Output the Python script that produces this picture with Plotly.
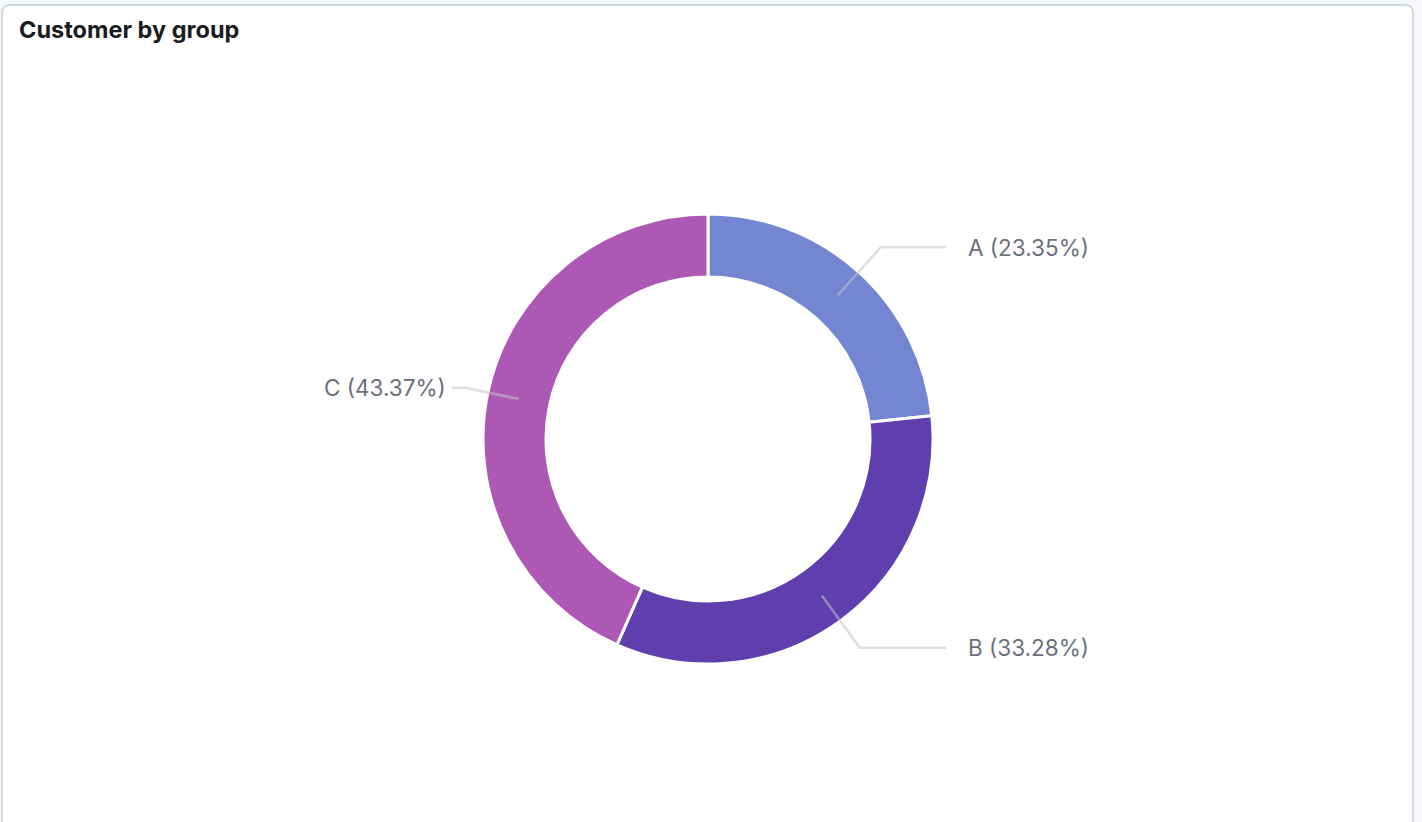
import math
import plotly.graph_objects as go

# ---- data ----
groups = ["A", "B", "C"]
shares = [23.35, 33.28, 43.37]
colors = ["#7486d2", "#5f3ead", "#ae58b6"]
title_text = "Customer by group"

W, H = 1422, 822
CX, CY = 708, 439          # donut centre (px)
R_OUT = 225                # outer radius (px)
HOLE = 0.72


def px(x):
    return x / W


def py(y):
    return 1 - y / H


fig = go.Figure()
fig.add_trace(go.Pie(
    labels=groups,
    values=shares,
    hole=HOLE,
    sort=False,
    direction="clockwise",
    rotation=0,
    marker=dict(colors=colors, line=dict(color="white", width=3)),
    textinfo="none",
    hoverinfo="label+percent",
    showlegend=False,
    domain=dict(x=[px(CX - R_OUT), px(CX + R_OUT)],
                y=[py(CY + R_OUT), py(CY - R_OUT)]),
))

shapes = []
annotations = []

# panel
x0, x1, yt, yb, rr = 2, 1413, 5, 840, 8
panel = (f"M {px(x0)},{py(yb)} L {px(x0)},{py(yt + rr)} "
         f"Q {px(x0)},{py(yt)} {px(x0 + rr)},{py(yt)} "
         f"L {px(x1 - rr)},{py(yt)} Q {px(x1)},{py(yt)} {px(x1)},{py(yt + rr)} "
         f"L {px(x1)},{py(yb)} Z")
shapes.append(dict(type="path", path=panel, xref="paper", yref="paper",
                   fillcolor="white", line=dict(color="#d3dae6", width=2),
                   layer="below"))

# leader lines + labels computed from the data
total = sum(shares)
r_mid = R_OUT * (1 + HOLE) / 2
cum = 0.0
for g, v in zip(groups, shares):
    mid = (cum + v / 2) / total * 2 * math.pi
    cum += v
    right = math.sin(mid) >= 0
    r_elb = 258 if right else 248
    sx, sy = CX + r_mid * math.sin(mid), CY - r_mid * math.cos(mid)
    ex, ey = CX + r_elb * math.sin(mid), CY - r_elb * math.cos(mid)
    if right:
        hx = max(CX + 238, ex + 12)
        lx = hx + 20
        anchor = "left"
    else:
        hx = min(CX - 253, ex - 13)
        lx = hx - 4
        anchor = "right"
    path = (f"M {px(sx)},{py(sy)} L {px(ex)},{py(ey)} L {px(hx)},{py(ey)}")
    shapes.append(dict(type="path", path=path, xref="paper", yref="paper",
                       line=dict(color="rgba(192,196,204,0.55)", width=2.5)))
    annotations.append(dict(
        x=px(lx), y=py(ey), xref="paper", yref="paper",
        text=f"{g} ({v / total * 100:.2f}%)", showarrow=False,
        xanchor=anchor, yanchor="middle",
        font=dict(family="Inter, Roboto, sans-serif", size=22.5, color="#69707d"),
    ))

annotations.append(dict(
    x=px(17), y=py(30), xref="paper", yref="paper", text=f"<b>{title_text}</b>",
    showarrow=False, xanchor="left", yanchor="middle",
    font=dict(family="Inter, Roboto, sans-serif", size=23.5, color="#1a1c21"),
))

fig.update_layout(
    width=W, height=H,
    margin=dict(l=0, r=0, t=0, b=0),
    paper_bgcolor="#f5f7fa",
    plot_bgcolor="white",
    shapes=shapes,
    annotations=annotations,
)

fig.write_html("out.html", config={"displayModeBar": False})
